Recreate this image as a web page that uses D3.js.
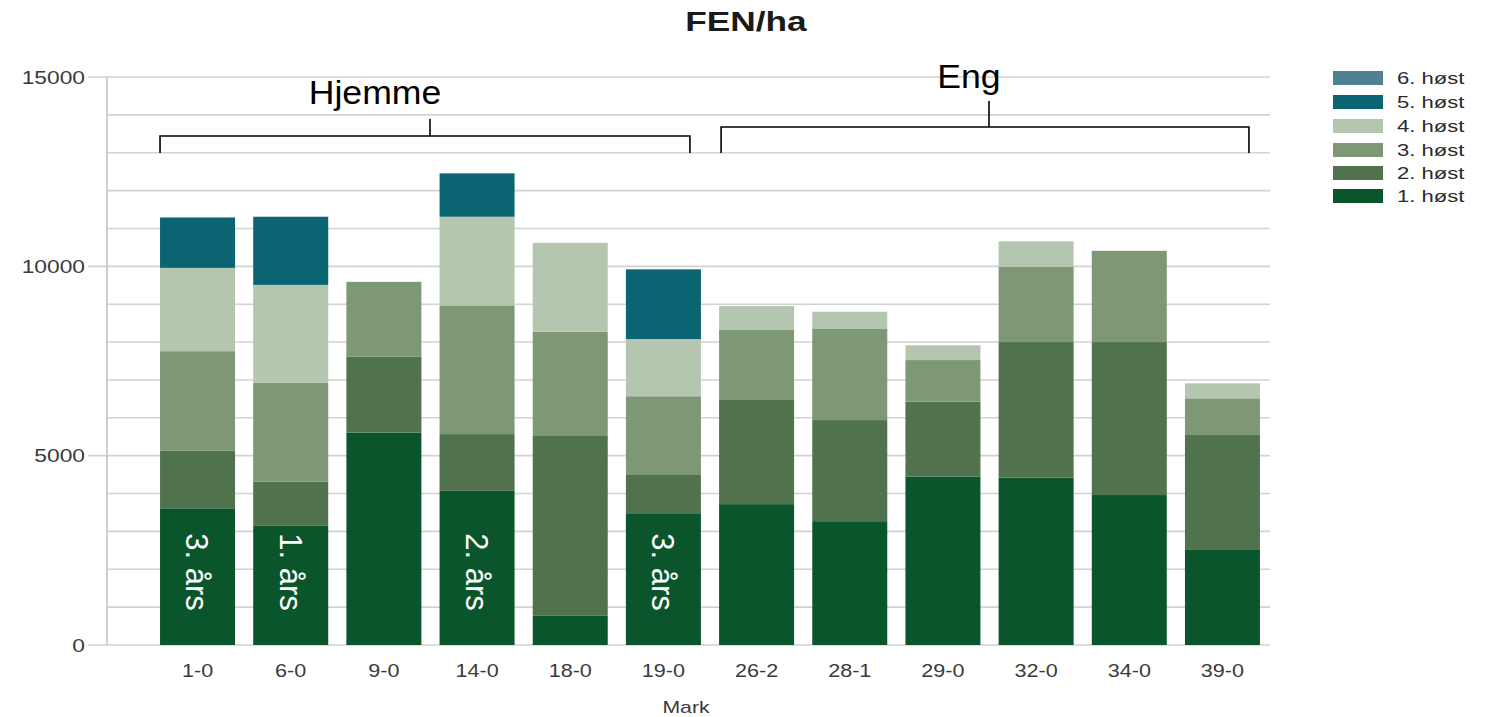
<!DOCTYPE html>
<html>
<head>
<meta charset="utf-8">
<script src="https://cdn.jsdelivr.net/npm/d3@7"></script>
<style>
  html, body { margin: 0; padding: 0; background: #ffffff; }
  svg { display: block; font-family: "Liberation Sans", Arial, sans-serif; }
</style>
</head>
<body>
<svg id="chart" width="1496" height="717"></svg>
<script>
// Fields (marker) along the x axis
const categories = ["1-0", "6-0", "9-0", "14-0", "18-0", "19-0", "26-2", "28-1", "29-0", "32-0", "34-0", "39-0"];

// Feed units per hectare for each cut (høst)
const host1 = [3610, 3160, 5610, 4070,  770, 3480, 3720, 3270, 4450, 4420, 3960, 2510];
const host2 = [1520, 1150, 2010, 1500, 4750, 1010, 2770, 2670, 1975, 3580, 4040, 3035];
const host3 = [2630, 2620, 1970, 3400, 2750, 2080, 1830, 2420, 1100, 1990, 2410,  970];
const host4 = [2200, 2580,    0, 2340, 2350, 1510,  630,  440,  390,  670,    0,  395];
const host5 = [1330, 1800,    0, 1145,    0, 1840,    0,    0,    0,    0,    0,    0];
const host6 = [   0,    0,    0,    0,    0,    0,    0,    0,    0,    0,    0,    0];

const seriesNames = ["1. høst", "2. høst", "3. høst", "4. høst", "5. høst", "6. høst"];
const seriesColors = ["#0b552c", "#50734d", "#7e9876", "#b4c6b0", "#0a6472", "#4f8192"];

// Age of the grass stand, written inside the first-cut segment
const standAge = ["3. års", "1. års", "", "2. års", "", "3. års", "", "", "", "", "", ""];

// Field groups marked with brackets above the bars
const groupNames = ["Hjemme", "Eng"];
const groupFirst = ["1-0", "26-2"];
const groupLast = ["19-0", "39-0"];

const yTicks = [0, 5000, 10000, 15000];
const title = "FEN/ha";
const xTitle = "Mark";

const svg = d3.select("#chart");
const font = "'Liberation Sans', Arial, sans-serif";

const plot = { left: 107, right: 1270, top: 77, bottom: 645 };

const x = d3.scaleBand()
  .domain(categories)
  .range([151, 1269])
  .paddingInner(0.195)
  .paddingOuter(0.097);

const y = d3.scaleLinear()
  .domain([0, 15000])
  .range([plot.bottom, plot.top]);

// Stacked table built from the series arrays
const allSeries = [host1, host2, host3, host4, host5, host6];
const table = categories.map((c, i) => {
  const row = { mark: c };
  seriesNames.forEach((s, j) => { row[s] = allSeries[j][i]; });
  return row;
});
const stacked = d3.stack().keys(seriesNames)(table);

// helper: horizontally widened text
function wideText(g, str, px, py, opts) {
  const t = g.append("text")
    .attr("transform", `translate(${px},${py}) scale(${opts.sx || 1},1)`)
    .attr("text-anchor", opts.anchor || "start")
    .attr("font-size", opts.size)
    .attr("font-weight", opts.weight || "normal")
    .attr("fill", opts.fill || "#333")
    .attr("font-family", font)
    .text(str);
  if (opts.baseline) t.attr("dominant-baseline", opts.baseline);
  return t;
}

// Gridlines every 1000
const grid = svg.append("g");
d3.range(0, 15001, 1000).forEach(v => {
  const major = v % 5000 === 0;
  grid.append("line")
    .attr("x1", major ? 88 : plot.left)
    .attr("x2", plot.right)
    .attr("y1", y(v)).attr("y2", y(v))
    .attr("stroke", "#d2d2d2")
    .attr("stroke-width", 1.6);
});
grid.append("line")
  .attr("x1", plot.left).attr("x2", plot.left)
  .attr("y1", y(15000)).attr("y2", y(0))
  .attr("stroke", "#c4c4c4")
  .attr("stroke-width", 1.6);

// Y tick labels
const yAxisG = svg.append("g");
yTicks.forEach(v => {
  wideText(yAxisG, String(v), 85, y(v), { size: 19, sx: 1.2, anchor: "end", baseline: "central", fill: "#3a3a3a" });
});

// Bars
const barG = svg.append("g");
stacked.forEach((layer, j) => {
  barG.append("g")
    .attr("fill", seriesColors[j])
    .selectAll("rect")
    .data(layer.filter(d => d[1] > d[0]))
    .join("rect")
    .attr("x", d => x(d.data.mark))
    .attr("width", x.bandwidth())
    .attr("y", d => y(d[1]))
    .attr("height", d => y(d[0]) - y(d[1]));
});

// Stand age labels inside the bars
categories.forEach((c, i) => {
  if (!standAge[i]) return;
  const cx = x(c) + x.bandwidth() / 2;
  barG.append("text")
    .attr("transform", `translate(${cx},572) rotate(90)`)
    .attr("text-anchor", "middle")
    .attr("dy", "0.36em")
    .attr("font-size", 31)
    .attr("fill", "#ffffff")
    .attr("font-family", font)
    .text(standAge[i]);
});

// X tick labels
const xAxisG = svg.append("g");
categories.forEach(c => {
  wideText(xAxisG, c, x(c) + x.bandwidth() / 2, 671, { size: 18, sx: 1.2, anchor: "middle", baseline: "central", fill: "#3a3a3a" });
});
wideText(xAxisG, xTitle, 686, 707, { size: 17, sx: 1.25, anchor: "middle", baseline: "central", fill: "#3a3a3a" });

// Title
wideText(svg, title, 746, 31, { size: 28, sx: 1.26, anchor: "middle", weight: "bold", fill: "#1a1a1a" });

// Group brackets
const bracketY = [136, 127];
const bracketStemTop = [119, 101];
const labelBase = [104, 88];
const bracketG = svg.append("g").attr("stroke", "#000").attr("stroke-width", 1.6).attr("fill", "none");
groupNames.forEach((name, k) => {
  const x0 = x(groupFirst[k]) + (k === 0 ? 0 : 2);
  const x1 = x(groupLast[k]) + x.bandwidth() - 11;
  const by = bracketY[k];
  const mid = k === 0 ? 430 : 989;
  bracketG.append("path")
    .attr("d", `M${x0},153 V${by} H${x1} V153 M${mid},${by} V${bracketStemTop[k]}`);
  wideText(svg, name, mid - (k === 0 ? 55 : 20), labelBase[k], { size: 33, sx: 1.08, anchor: "middle", fill: "#000" });
});

// Legend (drawn top-down from the last cut)
const legendG = svg.append("g");
const legendRows = [78, 102, 126, 150, 173, 196];
seriesNames.slice().reverse().forEach((s, r) => {
  const j = seriesNames.length - 1 - r;
  legendG.append("rect")
    .attr("x", 1333).attr("y", legendRows[r] - 7)
    .attr("width", 50).attr("height", 14)
    .attr("fill", seriesColors[j]);
  wideText(legendG, s, 1397, legendRows[r], { size: 17, sx: 1.3, baseline: "central", fill: "#2a2a2a" });
});
</script>
</body>
</html>
